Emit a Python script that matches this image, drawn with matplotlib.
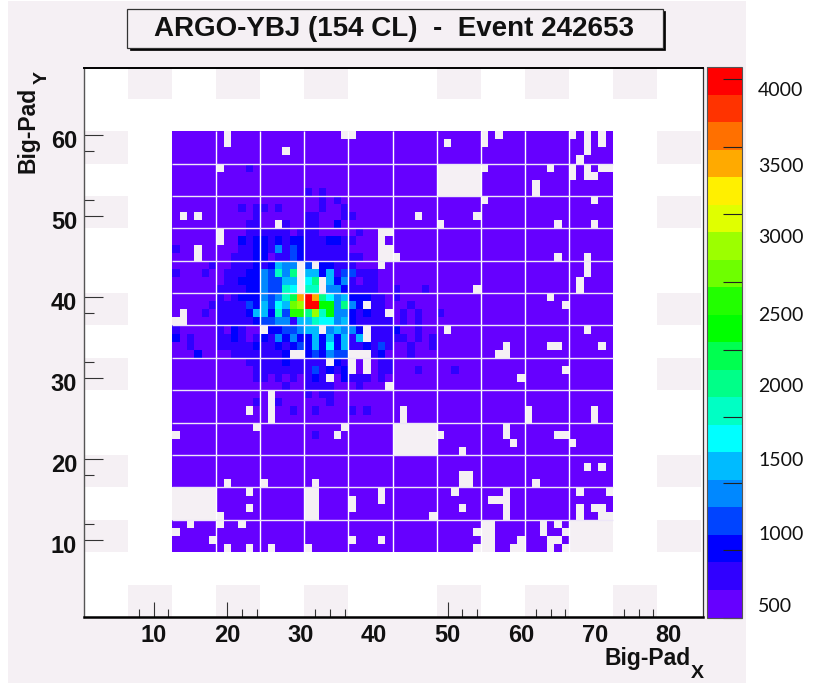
"""ARGO-YBJ event display on the big-pad carpet."""

from __future__ import annotations

import matplotlib

matplotlib.use("Agg")
import matplotlib.pyplot as plt
import numpy as np
from matplotlib.colors import BoundaryNorm, ListedColormap
from matplotlib.patches import Rectangle
from matplotlib.transforms import ScaledTranslation

FIG_W, FIG_H = 827, 685
PINK = "#F5F0F4"

# colour levels of the palette, bottom to top
level_colors = [
    "#6600FF", "#3000FF", "#0000FF", "#0044FF", "#0088FF",
    "#00BBFF", "#00FFFF", "#00FFC4", "#00FF88", "#00FF50",
    "#00FF00", "#22FF00", "#6EFF00", "#9CFF00", "#E0FF00",
    "#FFF000", "#FFAA00", "#FF7000", "#FF3300", "#FF0000",
]

# dead pads, row (from the top of the carpet) -> columns
dead_pads = {
    0: [7, 23, 24, 42, 44, 54, 56, 58],
    1: [7, 37, 42, 56, 58],
    2: [15, 56],
    3: [55],
    4: [6, *range(36, 43), 51, 54, 56, 58, 59],
    5: [*range(36, 42), 54, 56, 57],
    6: [*range(36, 42), 49],
    7: [*range(36, 42), 49],
    8: [42, 57],
    10: [1, 3, 33, 41],
    11: [14, 36, 52, 57],
    12: [6, 28, 29],
    13: [6, 28],
    14: [3, 28, 29],
    15: [3, 28, 29, 30, 52, 56],
    16: [17, 19, 28, 56],
    17: [17, 56],
    18: [17, 20, 55],
    19: [17, 20, 41, 55],
    20: [51],
    21: [26, 53],
    22: [1, 29],
    23: [0, 1],
    24: [12, 20, 26, 37, 56],
    25: [26],
    26: [45, 51, 52, 58],
    27: [16, 17, 24, 25, 26, 44, 45],
    28: [21, 24, 26],
    29: [24, 26, 53],
    30: [21, 47],
    31: [29],
    32: [13],
    33: [13],
    34: [10, 13, 31, 48, 57],
    35: [13, 31, 48, 57],
    36: [11, 23, *range(30, 36), 45],
    37: [0, 22, *range(30, 37), 45, 52, 53],
    38: [*range(30, 36), 46, 54],
    39: [*range(30, 36), 39],
    41: [56, 58],
    42: [39, 40],
    43: [7, 12, 19, 39, 40, 49],
    44: [*range(0, 6), 10, 18, 19, 28, 38, 45, 55, 59],
    45: [*range(0, 6), 18, 19, 24, 28, 43, 44, 45],
    46: [*range(0, 6), 10, 18, 19, 24, 39, 45, 55, 57, 58],
    47: [*range(0, 7), 18, 19, 35, 45, 55, 58, 59],
    48: [2, 6, 9, 42, 43, 50, 52, *range(54, 60)],
    49: [0, 41, 42, 43, 50, 53, *range(54, 60)],
    50: [5, 24, 28, 42, 43, 47, 51, 52, *range(54, 60)],
    51: [7, 10, 13, 18, 41, 42, 43, 46, 47, 51, 53, *range(54, 60)],
}

# core of the shower: rows 12-31, columns 0-29, one colour level per character
core_first_row = 12
core_rows = [
    "111111111122222212221111121111",
    "111111111323323233222332211111",
    "211111111223325243222222111111",
    "111111112223312243222222221111",
    "111112112223236551413322211111",
    "211121122233548591663624422211",
    "111111122333544661791635212211",
    "111111222233544871881553222211",
    "111111212333545" + "8AHKH975633322" + "1",
    "111112222243647" + "6DEKKBB59531221",
    "111121222236638" + "4CC9E8B55323221",
    "111111222223445526687756322222",
    "211111213211133445661565531222",
    "312111223212325353363636261222",
    "112111222223223234363736223242",
    "111311112222222311343544111231",
    "111111111122222322222132111122",
    "111111111112222222242323111122",
    "111111111112212121232113222121",
    "111111111111111211222211121111",
]

# rows away from the core, a little above the lowest level: column, row, level
faint_cells = [
    (10, 4, 2), (18, 7, 2), (20, 7, 2), (20, 8, 2), (22, 8, 2),
    (9, 9, 2), (11, 9, 2), (12, 9, 2), (14, 9, 2), (20, 9, 2), (23, 9, 2),
    (11, 10, 2), (18, 10, 2), (19, 10, 2), (23, 10, 2), (24, 10, 2),
    (10, 11, 2), (11, 11, 2), (15, 11, 2), (18, 11, 2), (19, 11, 2), (22, 11, 3),
    (30, 19, 2), (34, 19, 2), (30, 20, 2), (32, 21, 2),
    (31, 22, 2), (33, 22, 2), (36, 22, 2), (31, 23, 2), (33, 23, 2),
    (30, 24, 3), (33, 24, 2), (30, 25, 2), (31, 25, 2), (33, 25, 2), (35, 25, 2),
    (32, 26, 2), (35, 26, 2), (32, 27, 2), (33, 29, 2), (38, 29, 2),
    (18, 32, 2), (20, 32, 2), (21, 32, 2), (11, 33, 2), (14, 33, 2), (21, 33, 2),
    (16, 34, 2), (19, 34, 2), (24, 34, 2), (26, 34, 2), (19, 37, 2),
]

# pink patches around the carpet
edge_x_spans = [(6.5, 12.5), (18.5, 24.5), (30.5, 36.5), (48.5, 54.5), (60.5, 66.5), (72.5, 78.5)]
edge_y_spans = [(56.5, 60.5), (48.5, 52.5), (36.5, 40.5), (28.5, 32.5), (16.5, 20.5), (8.5, 12.5)]

x_labels = [10, 20, 30, 40, 50, 60, 70, 80]
x_marked = [10, 20, 50]
x_minor = [8, 12, 22, 24, 32, 34, 36, 52, 54, 62, 64, 66, 74, 76, 78]
y_labels = [10, 20, 30, 40, 50, 60]
y_minor = [12, 18, 32, 38, 52, 58]

cbar_labels = ["4000", "3500", "3000", "2500", "2000", "1500", "1000", "500"]
cbar_label_rows = [90, 167, 238, 316, 386, 461, 535, 606]
cbar_ticks = [0.5, 2.94, 5.38, 7.79, 10.23, 12.7, 15.15, 17.6, 20.07]


def px(x: float, y: float) -> tuple[float, float]:
    return x / FIG_W, 1 - y / FIG_H


def build_grid() -> np.ma.MaskedArray:
    grid = np.ones((52, 60))
    for row, text in enumerate(core_rows, start=core_first_row):
        for col, ch in enumerate(text):
            grid[row, col] = int(ch, 36)
    for col, row, level in faint_cells:
        grid[row, col] = level
    mask = np.zeros_like(grid, dtype=bool)
    for row, cols in dead_pads.items():
        mask[row, cols] = True
    return np.ma.masked_array(grid, mask)


def draw_carpet(ax, grid, cmap, norm):
    for x0, x1 in edge_x_spans:
        ax.add_patch(Rectangle((x0, 64.5), x1 - x0, 4, color=PINK, lw=0, zorder=0))
        ax.add_patch(Rectangle((x0, 0.5), x1 - x0, 4, color=PINK, lw=0, zorder=0))
    for y0, y1 in edge_y_spans:
        ax.add_patch(Rectangle((0.5, y0), 6, y1 - y0, color=PINK, lw=0, zorder=0))
        ax.add_patch(Rectangle((78.5, y0), 6, y1 - y0, color=PINK, lw=0, zorder=0))
    ax.add_patch(Rectangle((12.5, 8.5), 60, 52, color=PINK, lw=0, zorder=0))

    x_edges = np.arange(12.5, 73.5)
    y_edges = np.arange(60.5, 7.5, -1)
    mesh = ax.pcolormesh(x_edges, y_edges, grid, cmap=cmap, norm=norm, zorder=1)
    ax.vlines(x_edges[6:-1:6], 8.5, 60.5, color="white", lw=1.0, zorder=2)
    ax.hlines(y_edges[4:-1:4], 12.5, 72.5, color="#EDE6F8", lw=1.0, zorder=2)
    return mesh


def style_axes(fig, ax):
    ax.set_xlim(0.5, 84.75)
    ax.set_ylim(0.5, 68.3)
    ax.set_facecolor("white")

    ax.set_xticks(x_labels)
    ax.set_yticks(y_labels)
    ax.set_xticks(x_minor, minor=True)
    ax.set_yticks(y_minor, minor=True)
    ax.tick_params(axis="x", which="major", direction="in", length=11, width=0.8, color="#333333", pad=5)
    ax.tick_params(axis="x", which="minor", direction="in", length=6, width=0.8, color="#333333")
    ax.tick_params(axis="y", which="major", direction="in", length=14, width=0.8, color="#333333", pad=5)
    ax.tick_params(axis="y", which="minor", direction="in", length=7.5, width=0.8, color="#333333")
    for value, tick in zip(x_labels, ax.xaxis.get_major_ticks()):
        if value not in x_marked:
            tick.tick1line.set_visible(False)
    for label in ax.get_xticklabels() + ax.get_yticklabels():
        label.set_fontfamily("Liberation Sans")
        label.set_fontweight("bold")
        label.set_fontsize(17)
        label.set_color("#111111")
    nudge = ScaledTranslation(0, -3 / 72, fig.dpi_scale_trans)
    for label in ax.get_yticklabels():
        label.set_transform(label.get_transform() + nudge)

    ax.spines["top"].set_linewidth(1.4)
    ax.spines["bottom"].set_linewidth(1.8)
    ax.spines["left"].set_color("#555555")
    ax.spines["left"].set_linewidth(1.0)
    ax.spines["right"].set_color("#333333")
    ax.spines["right"].set_linewidth(0.9)


def draw_labels(fig):
    bold = {"family": "Liberation Sans", "weight": "bold", "color": "#111111"}
    fig.text(*px(605, 658), "Big-Pad", ha="left", va="center", fontsize=16.5, **bold)
    fig.text(*px(691, 673), "X", ha="left", va="center", fontsize=14, **bold)
    fig.text(*px(28, 173), "Big-Pad", ha="center", va="bottom", rotation=90, fontsize=16.5, **bold)
    fig.text(*px(42, 77), "Y", ha="center", va="center", rotation=90, fontsize=14, **bold)

    x0, y0 = px(127.5, 48)
    x1, y1 = px(662.5, 9.5)
    shadow = Rectangle((x0 + 2 / FIG_W, y0 - 2 / FIG_H), x1 - x0, y1 - y0, transform=fig.transFigure,
                       facecolor="black", edgecolor="black", lw=0.5, zorder=3)
    box = Rectangle((x0, y0), x1 - x0, y1 - y0, transform=fig.transFigure,
                    facecolor=PINK, edgecolor="#333333", lw=0.9, zorder=4)
    fig.add_artist(shadow)
    fig.add_artist(box)
    fig.text(*px(394, 29), "ARGO-YBJ (154 CL)  -  Event 242653", ha="center", va="center",
             fontsize=20, zorder=5, **bold)


def main() -> None:
    fig = plt.figure(figsize=(FIG_W / 100, FIG_H / 100), dpi=100, facecolor="white")
    fig.add_artist(Rectangle(px(8, 683), 738 / FIG_W, 682 / FIG_H, transform=fig.transFigure,
                             facecolor=PINK, edgecolor="none", zorder=-5))

    ax = fig.add_axes([84 / FIG_W, 1 - 617 / FIG_H, 619 / FIG_W, 549 / FIG_H])
    cmap = ListedColormap(level_colors)
    norm = BoundaryNorm(np.arange(0.5, 21.5), cmap.N)
    mesh = draw_carpet(ax, build_grid(), cmap, norm)
    style_axes(fig, ax)

    cax = fig.add_axes([707 / FIG_W, 1 - 617.5 / FIG_H, 35 / FIG_W, 550.5 / FIG_H])
    cbar = fig.colorbar(mesh, cax=cax, ticks=cbar_ticks)
    cbar.ax.minorticks_off()
    cbar.ax.tick_params(direction="in", length=14, width=0.8, color="#222222", labelright=False)
    cbar.outline.set_edgecolor("#555555")
    cbar.outline.set_linewidth(0.8)
    for text, row in zip(cbar_labels, cbar_label_rows):
        fig.text(*px(758, row), text, ha="left", va="center", fontsize=14, family="Lato", color="#111111")

    draw_labels(fig)
    fig.savefig("out.png", dpi=100, facecolor="white")
    plt.close(fig)


if __name__ == "__main__":
    main()
